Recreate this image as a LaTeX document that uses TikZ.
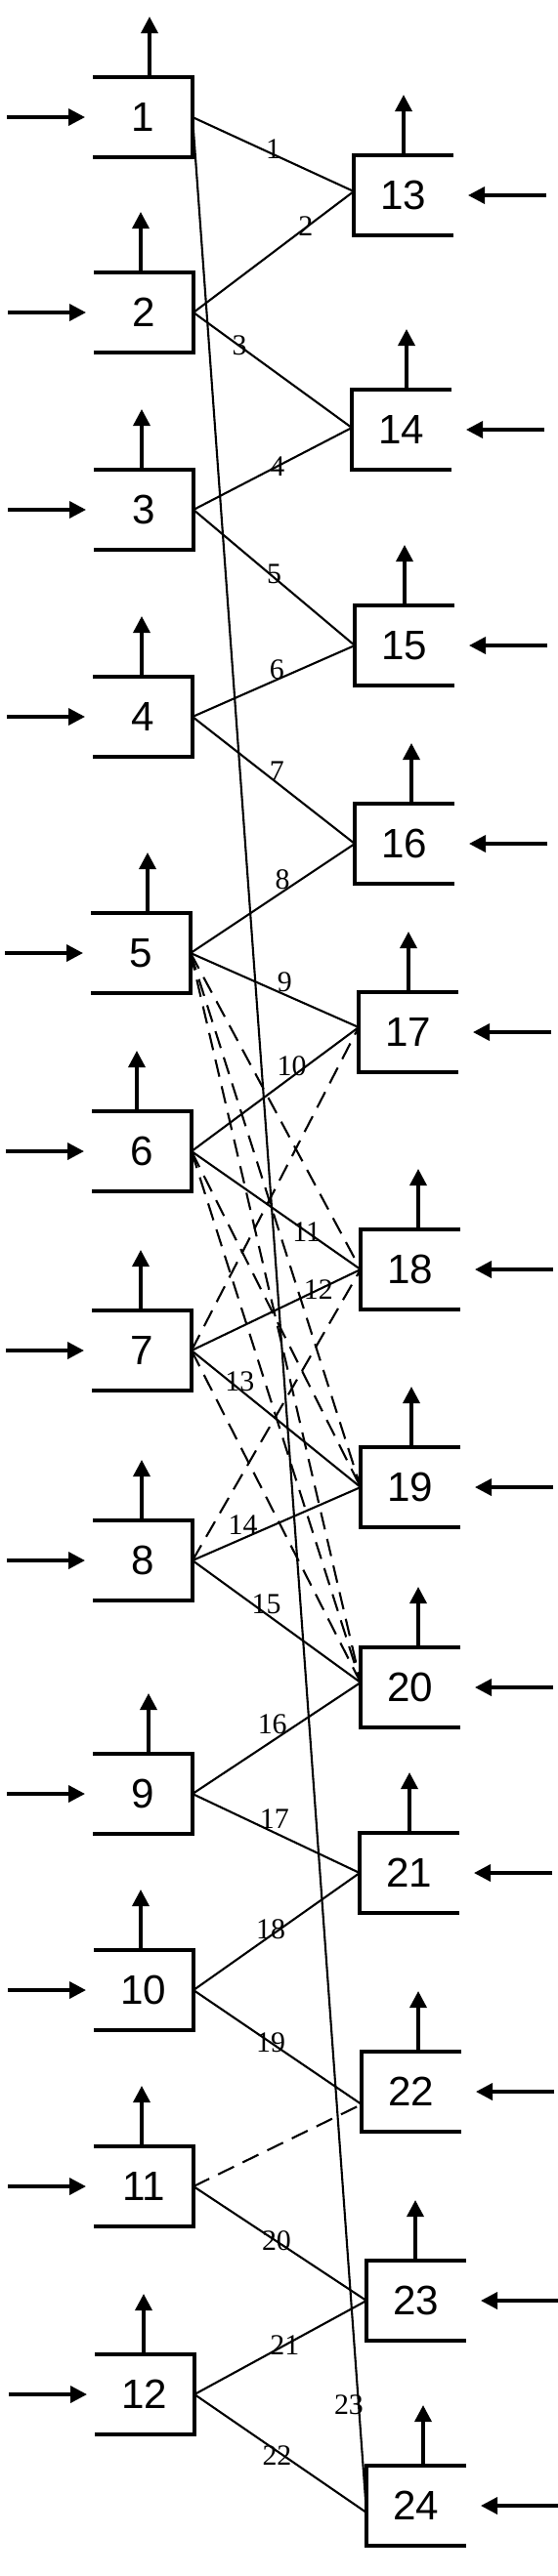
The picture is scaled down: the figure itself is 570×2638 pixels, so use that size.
\documentclass[tikz,border=0pt]{standalone}
\usepackage{fontspec}
\setmainfont{Liberation Serif}
\newfontfamily\boxsans{Liberation Sans}
\usetikzlibrary{arrows.meta}

\begin{document}
\begin{tikzpicture}[x=0.1mm, y=-0.1mm,
  unit/.style={minimum width=10.2mm, minimum height=8.2mm, inner sep=0pt, outer sep=0pt,
    font=\boxsans\fontsize{12}{14}\selectfont},
  side/.style={line width=1pt},
  feed/.style={line width=1pt, -{Triangle[length=1.7mm, width=1.7mm]}},
  link/.style={line width=0.6pt},
  maybe/.style={line width=0.6pt, dash pattern=on 1.8mm off 1mm},
  num/.style={font=\fontsize{8.5}{10}\selectfont, inner sep=0pt}]
  \useasboundingbox (0,0) rectangle (570,2638);
  % left column 1..12, box open to the left
  \foreach \n/\x/\y/\d in {1/146/120/7, 2/147/320/-3, 3/147/522/-2, 4/146/734/-1,
      5/144/976/7, 6/145/1179/-5, 7/145/1383/-1, 8/146/1598/-1,
      9/146/1837/6, 10/147/2038/-3, 11/147/2239/-2, 12/148/2452/-1}{
    \node[unit] (b\n) at (\x,\y) {\n};
    \draw[side] (b\n.north west) -- (b\n.north east) -- (b\n.south east) -- (b\n.south west);
    \draw[feed] ([xshift=\d*0.1mm]b\n.north) -- ++(0,-62) coordinate (bo\n);
    \draw[feed] ([xshift=-8.8mm]b\n.west) coordinate (bi\n) -- ([xshift=-0.8mm]b\n.west);
  }
  % right column 13..24, box open to the right
  \foreach \n/\x/\y/\d/\e in {13/413/200/0/-4, 14/411/440/5/-2, 15/414/661/0/0,
      16/414/864/7/0, 17/418/1057/0/-5, 18/420/1300/8/0, 19/420/1523/1/0,
      20/420/1728/8/-5, 21/419/1918/0/0, 22/421/2142/7/13, 23/426/2356/-1/0,
      24/426/2566/7/7}{
    \node[unit] (r\n) at (\x,\y) {\n};
    \draw[side] (r\n.north east) -- (r\n.north west) -- (r\n.south west) -- (r\n.south east);
    \draw[feed] ([xshift=\d*0.1mm]r\n.north) -- ++(0,-62) coordinate (ro\n);
    \draw[feed] ([xshift=9.5mm]r\n.east) coordinate (ri\n) -- ([xshift=1.5mm]r\n.east);
    \coordinate (j\n) at ([yshift=-\e*0.1mm]r\n.west);
  }
  % numbered links
  \foreach \a/\b/\p/\s [count=\k] in {1/13/.5/5, 2/13/.7/2, 2/14/.29/0, 3/14/.53/0,
      3/15/.5/4, 4/15/.52/10, 4/16/.52/12, 5/16/.56/13, 5/17/.56/13, 6/17/.6/11,
      6/18/.68/0, 7/18/.75/0, 7/19/.285/8, 8/19/.3/14, 8/20/.44/10, 9/20/.475/17,
      9/21/.49/14, 10/21/.465/7, 10/22/.46/0, 11/23/.48/0, 12/23/.525/0, 12/24/.48/-5}
    \draw[link] (b\a.east) -- node[num, pos=\p, yshift=\s*0.1mm] {\k} (j\b);
  \draw[link] (b1.east) -- node[num, pos=.955, xshift=-1mm] {23} (j24);
  % dashed links
  \foreach \a/\b in {5/18, 5/19, 5/20, 6/19, 6/20, 7/17, 7/20, 8/18, 11/22}
    \draw[maybe] (b\a.east) -- (j\b);
\end{tikzpicture}
\end{document}
